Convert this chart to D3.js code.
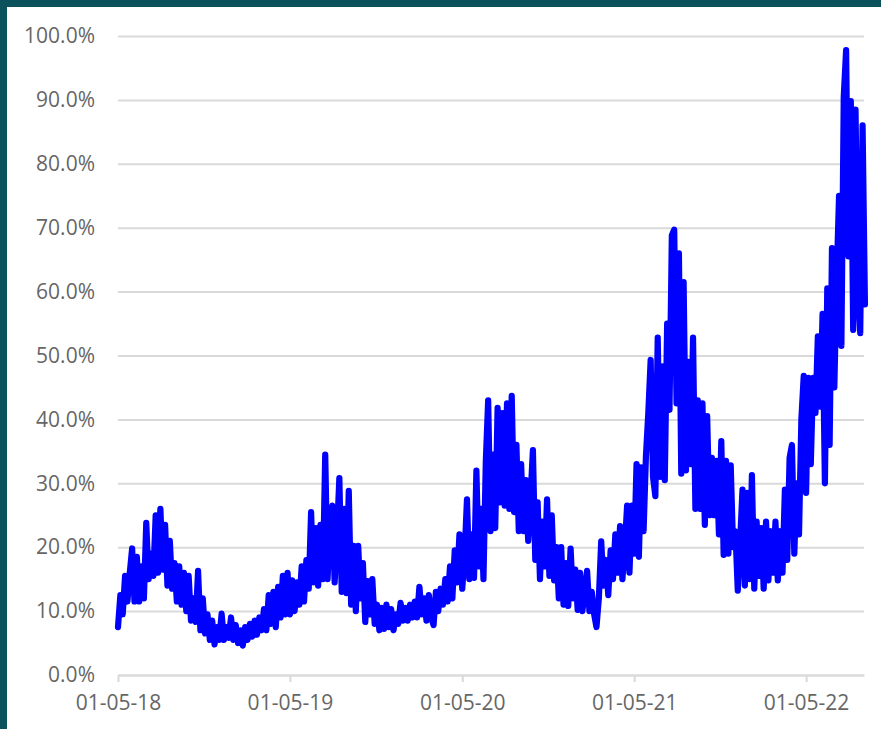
<!DOCTYPE html>
<html>
<head>
<meta charset="utf-8">
<script src="https://cdn.jsdelivr.net/npm/d3@7"></script>
<style>
  html, body { margin: 0; padding: 0; background: #ffffff; }
  svg { display: block; }
  text { font-family: "Open Sans", "Noto Sans", sans-serif; }
</style>
</head>
<body>
<div id="chart"></div>
<script>
// Daily-sampled rate, one reading every 5 days, grouped by the year that starts on 1 May.
const segmentStarts = ["2018-05-01", "2019-05-01", "2020-05-01", "2021-05-01", "2022-05-01"];
const stepDays = 5;

const rate2018 = [7.5, 12.5, 9.5, 15.5, 11.5, 16, 19.8, 11.5, 18.5, 11.5, 17, 12, 23.8, 15, 19, 15.5,
  25, 16, 26, 16.5, 23.5, 14, 21, 13.5, 17.5, 11.5, 17, 11, 16, 10, 15.5, 8.5, 12, 8.3, 16.3, 7, 12,
  6.5, 9.5, 5.5, 8.5, 4.8, 7.5, 5.5, 9.6, 5.5, 7.5, 5.8, 9, 5.5, 7.8, 5, 7, 4.6, 7.5, 5.5, 8, 6, 8.5,
  6.3, 9, 7, 10.3, 7, 12.5, 8, 13, 7.5, 13.8, 9, 15.5, 9.5, 16];

const rate2019 = [9.5, 14.8, 10, 14.5, 11, 17, 11.5, 18, 13.5, 25.5, 14.5, 23, 14, 23.5, 15, 34.5, 15,
  24, 26.5, 14.5, 22, 30.8, 13, 26, 12.8, 28.8, 11, 20.2, 10, 20.2, 12, 17.5, 8.3, 14.7, 9.5, 15, 8,
  11, 7, 10.5, 7.2, 11, 7.5, 10.3, 7, 9.5, 8, 11.3, 8.5, 10.5, 8.5, 11, 9, 11.5, 9, 13.8, 9.5, 12,
  8.5, 12.5, 9, 7.8, 13, 10, 13.5, 11, 15, 11.5, 17, 12, 19.5, 14.5, 22];

const rate2020 = [13.5, 19, 27.5, 15, 22, 15.2, 32, 17, 26, 15, 33.5, 43, 22.5, 34.5, 23, 41.8, 27, 41,
  26.5, 42.5, 26, 43.7, 25.5, 36, 22.5, 33, 22.5, 30.5, 21, 28, 35.2, 18, 27, 15, 24, 17, 27.5, 15.5,
  25, 14.8, 20, 12, 20, 11, 17.5, 10.8, 19.8, 12, 16.5, 10.2, 16, 10, 13, 16.3, 10, 13, 9.5, 7.5, 12,
  20.9, 14, 18, 12.5, 19.5, 15, 22, 16, 23.3, 15, 20, 26.5, 16, 26.5];

const rate2021 = [19, 33, 18.5, 32.5, 22.5, 34.3, 41, 49.3, 31, 28, 52.8, 31, 48.3, 30.5, 55, 41.5, 68.8,
  69.7, 42.5, 66, 31.5, 61.5, 32, 49, 33, 52.8, 26, 43, 26, 42.5, 23.5, 40.5, 25, 34, 25, 33.5, 22,
  36.6, 18.8, 33.5, 19, 32.8, 20, 22.5, 13.2, 21, 29, 14, 28.5, 15, 31.3, 13.5, 24, 15.5, 23, 13.5, 24,
  14.8, 22.5, 16, 24, 14.8, 22.5, 16, 29, 18, 34, 36, 19, 30, 22, 40, 46.8];

const rate2022 = [28.5, 46.5, 33, 46.5, 41, 53, 42, 56.5, 30, 60.5, 36, 66.8, 45, 62, 75, 51.5, 90.5,
  97.8, 65.5, 89.8, 54, 88.5, 61, 53.5, 86, 58];

const yTicks = [0, 10, 20, 30, 40, 50, 60, 70, 80, 90, 100];
const xTickDates = ["2018-05-01", "2019-05-01", "2020-05-01", "2021-05-01", "2022-05-01"];
const xDomain = ["2018-05-01", "2022-09-01"];

const parse = d3.timeParse("%Y-%m-%d");
const segments = [rate2018, rate2019, rate2020, rate2021, rate2022];
const series = [];
segments.forEach((vals, k) => {
  const start = parse(segmentStarts[k]);
  vals.forEach((v, j) => series.push({ date: d3.timeDay.offset(start, j * stepDays), value: v }));
});

const W = 881, H = 729;
const margin = { left: 118, right: 17, top: 36, bottom: 54 };

const svg = d3.select("#chart").append("svg").attr("width", W).attr("height", H);

// frame bands
svg.append("rect").attr("x", 0).attr("y", 0).attr("width", W).attr("height", 7).attr("fill", "#0c525c");
svg.append("rect").attr("x", 0).attr("y", 0).attr("width", 7).attr("height", H).attr("fill", "#0c525c");

const x = d3.scaleTime()
  .domain(xDomain.map(parse))
  .range([margin.left, W - margin.right]);

const y = d3.scaleLinear()
  .domain([0, 100])
  .range([H - margin.bottom, margin.top]);

const plotW = W - margin.right - margin.left;

// y axis with gridlines
const yAxis = svg.append("g")
  .attr("transform", `translate(${margin.left},0)`)
  .call(d3.axisLeft(y).tickValues(yTicks).tickSize(-plotW).tickPadding(23)
    .tickFormat(d => d.toFixed(1) + "%"));
yAxis.select(".domain").remove();
yAxis.selectAll(".tick line").attr("stroke", "#d9d9d9").attr("stroke-width", 2);
yAxis.selectAll(".tick text").attr("fill", "#666666").style("font-size", "21px");

// x axis
const xAxis = svg.append("g")
  .attr("transform", `translate(0,${y(0)})`)
  .call(d3.axisBottom(x).tickValues(xTickDates.map(parse)).tickSize(7).tickSizeOuter(0)
    .tickPadding(13).tickFormat(d3.timeFormat("%d-%m-%y")));
xAxis.select(".domain").attr("stroke", "#d9d9d9").attr("stroke-width", 2);
xAxis.selectAll(".tick line").attr("stroke", "#d9d9d9").attr("stroke-width", 2);
xAxis.selectAll(".tick text").attr("fill", "#666666").style("font-size", "21px");

// rate line
const line = d3.line().x(d => x(d.date)).y(d => y(d.value));
svg.append("path")
  .datum(series)
  .attr("d", line)
  .attr("fill", "none")
  .attr("stroke", "#0000ff")
  .attr("stroke-width", 6.2)
  .attr("stroke-linejoin", "round")
  .attr("stroke-linecap", "round");
</script>
</body>
</html>
